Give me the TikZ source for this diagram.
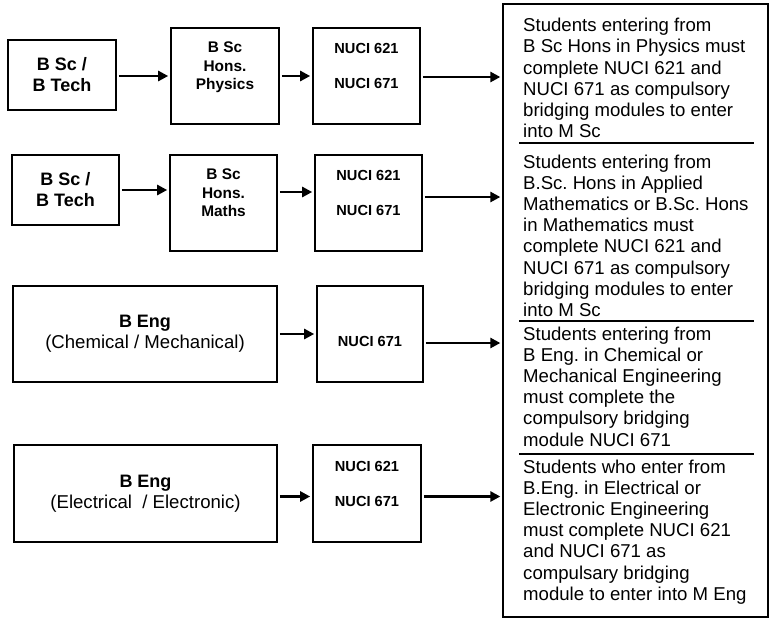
\documentclass[tikz,border=0pt]{standalone}
\usepackage{fontspec}
\setmainfont{Liberation Sans}
\usetikzlibrary{arrows.meta}
\frenchspacing

\newcommand{\fbig}{\fontsize{18}{21}\selectfont\bfseries}
\newcommand{\fmid}{\fontsize{15.4}{18.5}\selectfont\bfseries}
\newcommand{\fcode}{\fontsize{14.6}{18}\selectfont\bfseries}
\newcommand{\fnote}{\fontsize{18.6}{21.2}\selectfont}

\begin{document}
\begin{tikzpicture}[x=1pt, y=-1pt,
    box/.style={draw, line width=1.6pt, align=center, inner sep=0pt},
    upper/.style={text depth=20pt},
    arr/.style={-{Triangle[length=10pt,width=10pt]}, line width=2.5pt, shorten <=2pt, shorten >=2pt},
    note/.style={anchor=north west, align=left, inner sep=0pt, font=\fnote},
    sepline/.style={line width=2pt}]
    \useasboundingbox (0,0) rectangle (772,619);

        % Define nodes
        \node[box, minimum width=108pt, minimum height=70pt, font=\fbig] (A1) at (62,75) {B Sc /\\B Tech};
        \node[box, upper, minimum width=108pt, minimum height=96pt, font=\fmid] (B1) at (225,76) {B Sc\\Hons.\\Physics};
        \node[box, upper, minimum width=107pt, minimum height=96pt, font=\fcode] (C1) at (366.5,76) {NUCI 621\\[17pt]NUCI 671};

        \node[box, minimum width=107pt, minimum height=70pt, font=\fbig] (A2) at (65.5,190) {B Sc /\\B Tech};
        \node[box, upper, minimum width=107pt, minimum height=96pt, font=\fmid] (B2) at (223.5,203) {B Sc\\Hons.\\Maths};
        \node[box, upper, minimum width=107pt, minimum height=96pt, font=\fcode] (C2) at (368.5,203) {NUCI 621\\[17pt]NUCI 671};

        \node[box, minimum width=264pt, minimum height=96pt, font=\fnote] (A3) at (145,334) {{\fbig B Eng}\\(Chemical / Mechanical)};
        \node[box, text height=25pt, minimum width=106pt, minimum height=96pt, font=\fcode] (C3) at (370,334) {NUCI 671};

        \node[box, minimum width=263pt, minimum height=97pt, font=\fnote] (A4) at (145.5,493.5) {{\fbig B Eng}\\(Electrical~~/ Electronic)};
        \node[box, upper, minimum width=108pt, minimum height=97pt, font=\fcode] (C4) at (367,493.5) {NUCI 621\\[17pt]NUCI 671};

        \node[draw, line width=1.3pt, minimum width=265pt, minimum height=613pt] (R) at (635.5,310.5) {};
        \node[note] (T1) at (523,18) {Students entering from\\B Sc Hons in Physics must\\complete NUCI 621 and\\NUCI 671 as compulsory\\bridging modules to enter\\into M Sc};
        \node[note] (T2) at (523,154.4) {Students entering from\\B.Sc. Hons in Applied\\Mathematics or B.Sc. Hons\\in Mathematics must\\complete NUCI 621 and\\NUCI 671 as compulsory\\bridging modules to enter\\into M Sc};
        \node[note] (T3) at (523,326.4) {Students entering from\\B Eng. in Chemical or\\Mechanical Engineering\\must complete the\\compulsory bridging\\module NUCI 671};
        \node[note] (T4) at (523,459.4) {Students who enter from\\B.Eng. in Electrical or\\Electronic Engineering\\must complete NUCI 621\\and NUCI 671 as\\compulsary bridging\\module to enter into M Eng};

        % Separators
        \foreach \y in {143,321,454}
            \draw[sepline] (519,\y) -- (754,\y);

        % Draw edges
        \draw[arr] (A1.east |- B1.west) -- (B1.west);
        \draw[arr] (B1.east) -- (C1.west);
        \draw[arr] (A2.east) -- (A2.east -| B2.west);
        \draw[arr] ([yshift=11pt]B2.east) -- ([yshift=11pt]C2.west);
        \draw[arr] (A3.east) -- (C3.west);
        \draw[arr] ([yshift=-3pt]A4.east) -- ([yshift=-3pt]C4.west);

        \foreach \i/\s in {1/-1,2/6,3/-9,4/-3}
            \draw[arr] ([yshift=\s pt]C\i.east) -- ([yshift=\s pt]C\i.east -| R.west);
    \end{tikzpicture}
\end{document}
